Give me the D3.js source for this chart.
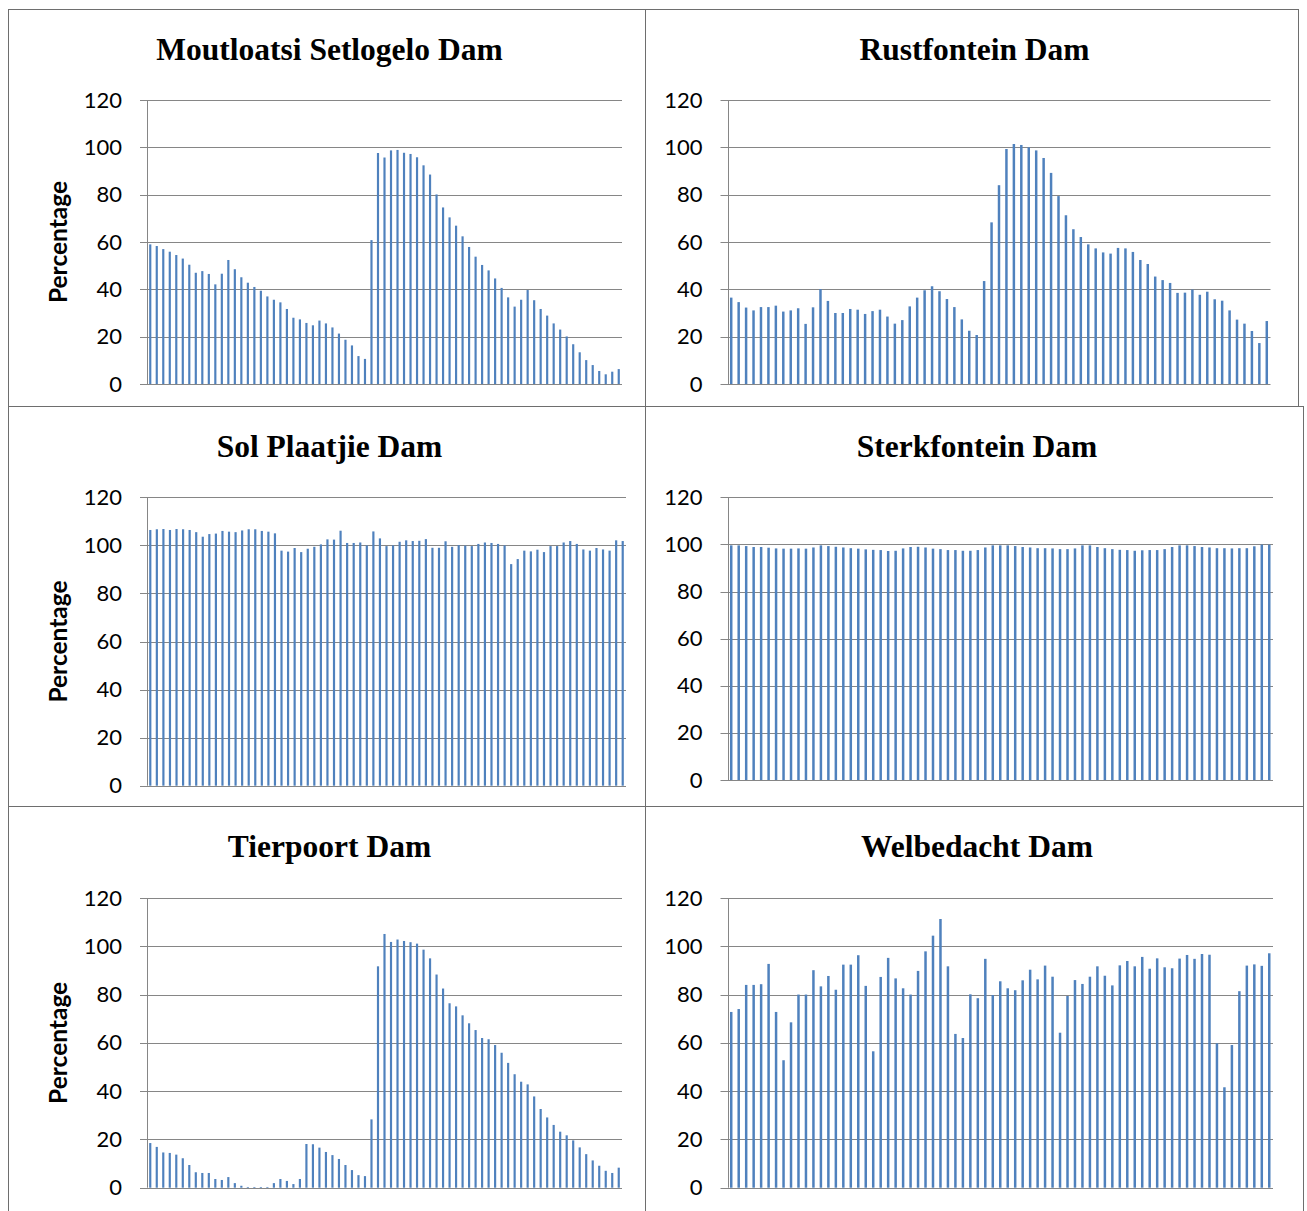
<!DOCTYPE html>
<html>
<head>
<meta charset="utf-8">
<script src="https://cdn.jsdelivr.net/npm/d3@7"></script>
<style>
  body { margin: 0; background: #fff; }
</style>
</head>
<body>
<div id="chart"></div>
<script>
// monthly storage (% of full supply), 73 readings per dam
const moutloatsi = [59.0, 58.3, 57.0, 55.9, 54.5, 53.0, 50.4, 47.0, 47.7, 46.5, 42.1, 46.6, 52.4, 48.5, 45.1, 42.8, 41.0, 39.4, 37.0, 35.6,
  34.5, 31.7, 28.0, 27.3, 25.8, 24.8, 26.8, 25.6, 23.9, 21.3, 18.7, 16.3, 11.8, 10.6, 60.8, 97.6, 95.7, 98.7, 98.9, 97.7,
  97.2, 95.8, 92.4, 88.5, 80.1, 74.6, 70.4, 66.9, 62.4, 57.9, 53.8, 50.3, 48.0, 44.6, 40.6, 36.6, 32.7, 35.6, 39.7, 35.4,
  31.7, 28.9, 25.6, 23.0, 20.1, 16.8, 13.4, 10.1, 8.0, 5.5, 4.1, 5.2, 6.3];

const rustfontein = [36.5, 34.6, 32.3, 31.1, 32.5, 32.5, 33.1, 30.6, 31.1, 32.0, 25.4, 32.4, 40.1, 35.1, 30.0, 30.0, 31.7, 31.4, 29.6, 30.8,
  31.4, 28.5, 25.5, 27.0, 32.8, 36.5, 39.6, 41.3, 39.2, 35.9, 32.5, 27.3, 22.5, 20.7, 43.5, 68.3, 84.0, 99.3, 101.4, 101.0,
  100.0, 98.7, 95.5, 89.2, 79.4, 71.3, 65.4, 62.1, 59.0, 57.3, 55.6, 55.1, 57.5, 57.3, 55.8, 52.4, 50.7, 45.4, 43.9, 42.7,
  38.5, 38.6, 39.9, 37.7, 39.0, 35.8, 35.2, 31.1, 27.2, 25.5, 22.4, 17.3, 26.6];

const solPlaatjie = [106.4, 106.7, 106.8, 106.4, 106.8, 106.7, 106.4, 105.5, 103.6, 104.7, 104.9, 106.0, 105.7, 105.5, 106.2, 106.7, 106.7, 106.0, 105.7, 105.0,
  97.8, 97.4, 98.9, 97.2, 98.6, 99.4, 100.4, 102.5, 102.4, 106.1, 101.0, 101.0, 101.2, 100.0, 105.8, 102.9, 99.7, 100.0, 101.5, 102.1,
  101.8, 101.9, 102.6, 99.0, 99.0, 101.7, 99.4, 100.1, 99.9, 99.7, 100.6, 101.2, 101.0, 100.6, 100.0, 92.2, 94.3, 97.8, 97.5, 98.2,
  97.2, 99.7, 99.7, 101.2, 101.8, 100.6, 98.3, 97.8, 98.9, 98.3, 97.8, 102.1, 101.8];

const sterkfontein = [99.6, 99.6, 99.3, 98.9, 98.9, 98.6, 98.3, 98.2, 98.2, 98.3, 98.2, 98.7, 99.6, 99.3, 99.0, 98.7, 98.4, 98.2, 97.9, 97.7,
  97.6, 97.2, 97.3, 98.3, 98.9, 99.0, 98.7, 98.2, 98.0, 97.6, 97.6, 97.3, 97.3, 97.6, 98.7, 99.6, 99.6, 99.6, 99.3, 98.9,
  98.7, 98.4, 98.4, 98.3, 98.0, 98.0, 98.3, 99.6, 99.6, 98.9, 98.4, 98.0, 97.7, 97.6, 97.3, 97.5, 97.6, 97.6, 98.0, 98.9,
  99.6, 99.6, 99.3, 98.9, 98.7, 98.4, 98.4, 98.3, 98.4, 98.4, 99.2, 99.9, 99.9];

const tierpoort = [18.5, 16.9, 14.6, 14.4, 13.7, 12.2, 9.4, 6.4, 6.1, 6.1, 3.6, 3.2, 4.4, 1.9, 0.8, 0.3, 0.3, 0.3, 0.3, 1.9,
  3.6, 2.8, 1.5, 3.6, 18.1, 18.0, 16.6, 14.8, 13.5, 11.9, 9.4, 7.3, 5.2, 4.8, 28.3, 91.7, 105.1, 101.8, 102.8, 102.2,
  101.7, 101.1, 98.6, 95.0, 88.3, 82.5, 76.4, 75.1, 71.4, 68.1, 65.3, 62.0, 61.5, 59.1, 55.9, 51.7, 47.0, 43.9, 42.8, 37.8,
  32.6, 29.1, 26.0, 23.2, 21.7, 19.6, 16.7, 13.9, 11.3, 9.1, 7.0, 6.1, 8.3];

const welbedacht = [72.8, 74.0, 84.0, 84.0, 84.3, 92.7, 72.8, 52.8, 68.5, 80.0, 80.0, 90.1, 83.4, 87.7, 82.0, 92.4, 92.4, 96.3, 83.6, 56.5,
  87.3, 95.2, 86.7, 82.6, 80.0, 89.8, 97.9, 104.4, 111.3, 91.7, 63.7, 62.0, 80.1, 78.5, 94.8, 79.8, 85.5, 82.6, 81.8, 85.9,
  90.3, 86.3, 92.0, 87.4, 64.2, 79.4, 86.0, 84.4, 87.4, 91.7, 87.8, 83.8, 92.1, 93.9, 91.7, 95.6, 90.7, 95.0, 91.3, 90.9,
  94.9, 96.4, 94.8, 96.8, 96.5, 59.8, 41.6, 59.1, 81.4, 92.0, 92.5, 91.9, 97.1];

const yTicks = [0, 20, 40, 60, 80, 100, 120];

// layout of the six chart boxes: [x0, y0, x1, y1] for the frame and the plot area
const panels = [
  { title: 'Moutloatsi Setlogelo Dam', values: moutloatsi, frame: [8, 9, 645, 406], plot: [147, 100, 622, 384], ylabel: true },
  { title: 'Rustfontein Dam', values: rustfontein, frame: [645, 9, 1298, 406], plot: [727.5, 100, 1270.5, 384], ylabel: false },
  { title: 'Sol Plaatjie Dam', values: solPlaatjie, frame: [8, 406, 645, 806], plot: [147, 497.3, 626, 785.7], ylabel: true },
  { title: 'Sterkfontein Dam', values: sterkfontein, frame: [645, 406, 1303, 806], plot: [727.5, 497.3, 1273, 780], ylabel: false },
  { title: 'Tierpoort Dam', values: tierpoort, frame: [8, 806, 645, 1230], plot: [147, 898, 622, 1187.7], ylabel: true },
  { title: 'Welbedacht Dam', values: welbedacht, frame: [645, 806, 1303, 1230], plot: [727.5, 898, 1273, 1187.7], ylabel: false }
];

const width = 1307;
const height = 1211;

const svg = d3.select('#chart').append('svg')
  .attr('width', width)
  .attr('height', height)
  .style('display', 'block');

panels.forEach(p => {
  const [fx0, fy0, fx1, fy1] = p.frame;
  const [px0, py0, px1, py1] = p.plot;

  // chart area border
  svg.append('rect')
    .attr('x', fx0 + 0.5)
    .attr('y', fy0 + 0.5)
    .attr('width', fx1 - fx0)
    .attr('height', fy1 - fy0)
    .attr('fill', 'none')
    .attr('stroke', '#6e6e6e')
    .attr('stroke-width', 1);

  svg.append('text')
    .attr('x', (fx0 + fx1) / 2 + 3)
    .attr('y', fy0 + 51)
    .attr('text-anchor', 'middle')
    .style('font-family', '"Liberation Serif", "Times New Roman", serif')
    .style('font-weight', 'bold')
    .style('font-size', '31.5px')
    .text(p.title);

  const x = d3.scaleBand()
    .domain(d3.range(p.values.length))
    .range([px0, px1])
    .paddingInner(2 / 3)
    .paddingOuter(1 / 3);

  const y = d3.scaleLinear()
    .domain([0, 120])
    .range([py1, py0]);

  const g = svg.append('g');

  // gridlines with the outside tick marks
  g.selectAll('line.grid')
    .data(yTicks)
    .enter().append('line')
    .attr('class', 'grid')
    .attr('x1', px0 - 7)
    .attr('x2', px1)
    .attr('y1', d => Math.round(y(d)) + 0.5)
    .attr('y2', d => Math.round(y(d)) + 0.5)
    .attr('stroke', '#868686')
    .attr('stroke-width', 1);

  // value axis line
  g.append('line')
    .attr('x1', Math.round(px0) + 0.5)
    .attr('x2', Math.round(px0) + 0.5)
    .attr('y1', y(120))
    .attr('y2', y(0))
    .attr('stroke', '#868686')
    .attr('stroke-width', 1);

  g.selectAll('rect.bar')
    .data(p.values)
    .enter().append('rect')
    .attr('class', 'bar')
    .attr('x', (d, i) => x(i))
    .attr('width', x.bandwidth())
    .attr('y', d => y(d))
    .attr('height', d => y(0) - y(d))
    .attr('fill', '#4f81bd');

  const axis = g.append('g')
    .attr('transform', `translate(${px0},0)`)
    .call(d3.axisLeft(y).tickValues(yTicks).tickSize(0).tickPadding(25));
  axis.select('.domain').remove();
  axis.selectAll('text')
    .style('font-family', 'Lato, "Liberation Sans", sans-serif')
    .style('font-size', '22px')
    .attr('fill', '#000');

  if (p.ylabel) {
    svg.append('text')
      .attr('transform', `translate(${fx0 + 59},${(py0 + py1) / 2}) rotate(-90)`)
      .attr('text-anchor', 'middle')
      .style('font-family', 'Lato, "Liberation Sans", sans-serif')
      .style('font-weight', 'bold')
      .style('font-size', '24.5px')
      .text('Percentage');
  }
});
</script>
</body>
</html>
